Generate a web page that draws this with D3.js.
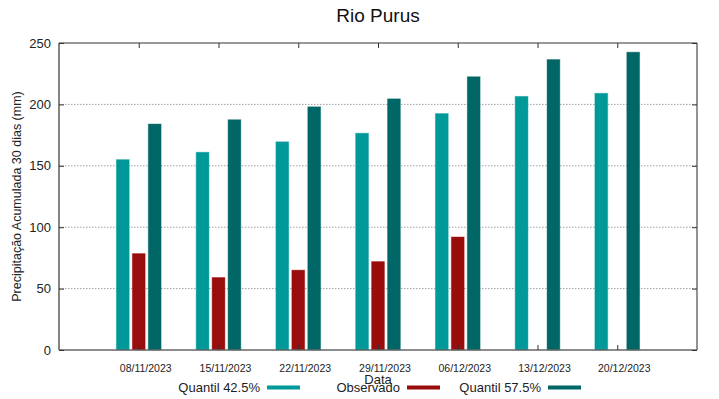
<!DOCTYPE html>
<html>
<head>
<meta charset="utf-8">
<script src="https://cdn.jsdelivr.net/npm/d3@7"></script>
<style>
  html, body { margin: 0; padding: 0; background: #fff; }
  svg { display: block; font-family: "Liberation Sans", Arial, sans-serif; }
</style>
</head>
<body>
<svg id="chart" width="719" height="399"></svg>
<script>
const dates = ["08/11/2023", "15/11/2023", "22/11/2023", "29/11/2023", "06/12/2023", "13/12/2023", "20/12/2023"];
const quantil425 = [155, 161, 169.5, 176.5, 192.5, 206.5, 209];
const observado = [78.5, 59, 65, 72, 92, null, null];
const quantil575 = [184, 187.5, 198, 204.5, 222.5, 236.5, 242.5];
const yTicks = [0, 50, 100, 150, 200, 250];
const seriesNames = ["Quantil 42.5%", "Observado", "Quantil 57.5%"];
const seriesColors = ["#009999", "#990d0d", "#006666"];
const seriesData = [quantil425, observado, quantil575];

const svg = d3.select("#chart");
const L = 59, R = 697, T = 43, B = 350;

const x = d3.scaleLinear().domain([-1, dates.length]).range([L, R]);
const y = d3.scaleLinear().domain([0, 250]).range([B, T]);
const unit = x(1) - x(0);
const offsets = [-0.2, 0, 0.2];
const bw = 0.16 * unit;

// grid
svg.append("g").selectAll("line").data(yTicks.filter(d => d > 0 && d < 250)).join("line")
  .attr("x1", L).attr("x2", R).attr("y1", d => y(d)).attr("y2", d => y(d))
  .attr("stroke", "#a0a0a0").attr("stroke-width", 1).attr("stroke-dasharray", "1.5,1.5");

// bars
seriesData.forEach((vals, s) => {
  svg.append("g").selectAll("rect").data(vals.map((v, i) => ({v, i})).filter(d => d.v != null)).join("rect")
    .attr("x", d => x(d.i + offsets[s]) - bw / 2)
    .attr("width", bw)
    .attr("y", d => y(d.v))
    .attr("height", d => y(0) - y(d.v))
    .attr("fill", seriesColors[s])
    .attr("stroke", seriesColors[s]).attr("stroke-opacity", 0.45).attr("stroke-width", 1);
});

// frame
svg.append("line").attr("x1", L).attr("x2", R).attr("y1", T).attr("y2", T).attr("stroke", "#333").attr("stroke-width", 1.2);
svg.append("line").attr("x1", L).attr("x2", L).attr("y1", T).attr("y2", B).attr("stroke", "#333").attr("stroke-width", 1.2);
svg.append("line").attr("x1", L).attr("x2", R).attr("y1", B).attr("y2", B).attr("stroke", "#666").attr("stroke-width", 1.6);
svg.append("line").attr("x1", R).attr("x2", R).attr("y1", T).attr("y2", B).attr("stroke", "#777").attr("stroke-width", 1.6);

// y axis ticks (inside) left and right
const yAxis = d3.axisLeft(y).tickValues(yTicks).tickSize(-5).tickPadding(8);
const gy = svg.append("g").attr("transform", `translate(${L},0)`).call(yAxis);
gy.select(".domain").remove();
gy.selectAll(".tick line").attr("stroke", "#333");
gy.selectAll(".tick text").attr("font-size", 13).attr("fill", "#222").attr("font-family", "Liberation Sans, Arial, sans-serif");
const gyr = svg.append("g").attr("transform", `translate(${R},0)`).call(d3.axisRight(y).tickValues(yTicks).tickSize(-5).tickFormat(""));
gyr.select(".domain").remove();
gyr.selectAll(".tick line").attr("stroke", "#333");

// x ticks top & bottom
const idx = dates.map((d, i) => i);
const xb = svg.append("g").attr("transform", `translate(0,${B})`)
  .call(d3.axisBottom(x).tickValues(idx).tickSize(-5).tickFormat(""));
xb.select(".domain").remove();
xb.selectAll(".tick line").attr("stroke", "#333");
const xt = svg.append("g").attr("transform", `translate(0,${T})`)
  .call(d3.axisTop(x).tickValues(idx).tickSize(-5).tickFormat(""));
xt.select(".domain").remove();
xt.selectAll(".tick line").attr("stroke", "#333");

// x labels
svg.append("g").selectAll("text").data(dates).join("text")
  .attr("x", (d, i) => x(i) + 7).attr("y", 372)
  .attr("text-anchor", "middle").attr("font-size", 10.5).attr("fill", "#222")
  .text(d => d);

// axis titles
svg.append("text").attr("x", 378).attr("y", 384).attr("text-anchor", "middle")
  .attr("font-size", 13).attr("fill", "#222").text("Data");
svg.append("text").attr("transform", "translate(21,196.5) rotate(-90)").attr("text-anchor", "middle")
  .attr("font-size", 12.5).attr("fill", "#222").text("Precipitação Acumulada 30 dias (mm)");

// title
svg.append("text").attr("x", 378).attr("y", 22).attr("text-anchor", "middle")
  .attr("font-size", 19).attr("fill", "#111").text("Rio Purus");

// legend
const legX = [260, 400, 541];
seriesNames.forEach((n, s) => {
  svg.append("text").attr("x", legX[s]).attr("y", 392).attr("text-anchor", "end")
    .attr("font-size", 13).attr("fill", "#222").text(n);
  svg.append("rect").attr("x", legX[s] + 7).attr("y", 385.5).attr("width", 33).attr("height", 4)
    .attr("fill", seriesColors[s]);
});
</script>
</body>
</html>
